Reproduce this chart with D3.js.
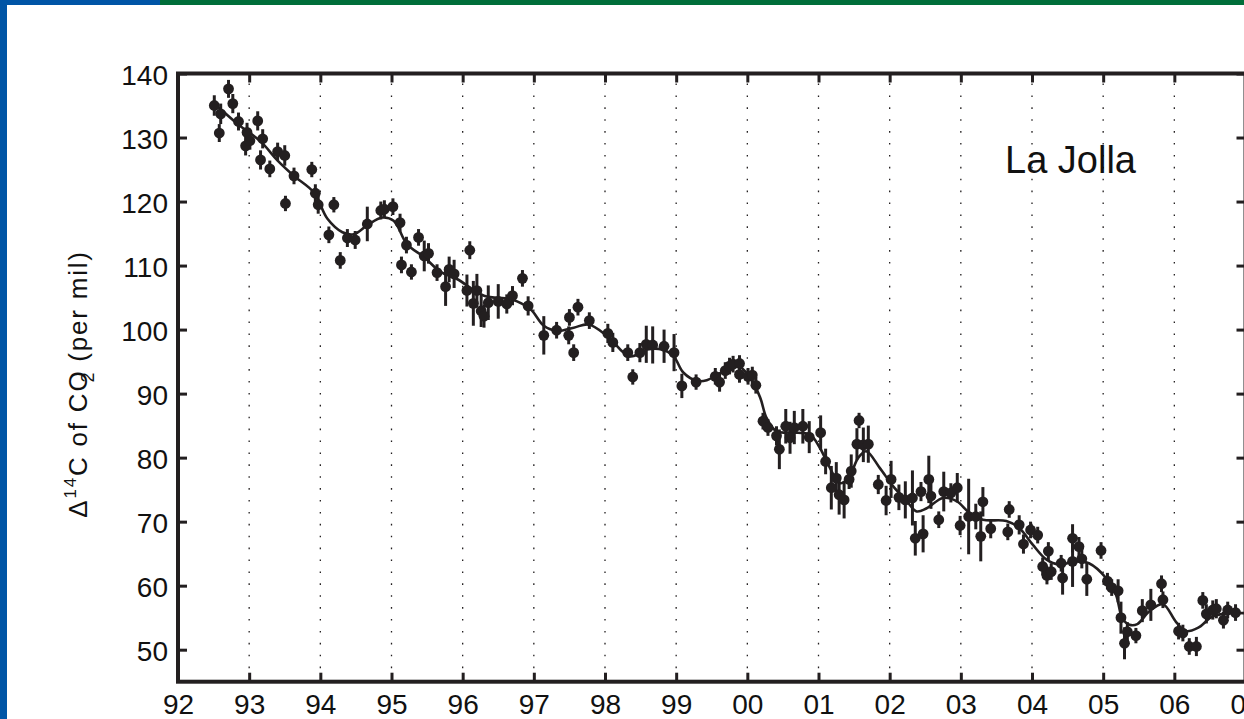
<!DOCTYPE html>
<html>
<head>
<meta charset="utf-8">
<script src="https://cdn.jsdelivr.net/npm/d3@7"></script>
<style>
    body { margin: 0px; overflow: hidden; background: #ffffff; }
    text { font-family: "Liberation Sans", Arial, Helvetica, sans-serif; fill: #111111; }
</style>
</head>
<body id="body">
<svg id="main-svg" width="1244" height="719"></svg>
<script>
'use strict';

// sample dates (decimal year), delta 14C (per mil) and 1-sigma error
const years = [
    1992.51, 1992.58, 1992.60, 1992.71, 1992.77, 1992.85, 1992.95, 1992.97, 1993.01, 1993.12,
    1993.16, 1993.19, 1993.29, 1993.40, 1993.50, 1993.51, 1993.63, 1993.88, 1993.93, 1993.97,
    1994.12, 1994.19, 1994.28, 1994.38, 1994.49, 1994.66, 1994.85, 1994.90, 1995.02, 1995.12,
    1995.14, 1995.21, 1995.28, 1995.38, 1995.46, 1995.52, 1995.64, 1995.76, 1995.81, 1995.88,
    1996.06, 1996.10, 1996.15, 1996.20, 1996.26, 1996.30, 1996.36, 1996.50, 1996.62, 1996.70,
    1996.84, 1996.92, 1997.14, 1997.32, 1997.49, 1997.50, 1997.56, 1997.62, 1997.78, 1998.04,
    1998.11, 1998.32, 1998.39, 1998.49, 1998.58, 1998.67, 1998.83, 1998.97, 1999.08, 1999.28,
    1999.55, 1999.61, 1999.69, 1999.75, 1999.80, 1999.89, 1999.89, 2000.01, 2000.07, 2000.12,
    2000.22, 2000.29, 2000.41, 2000.45, 2000.54, 2000.60, 2000.66, 2000.78, 2000.87, 2001.03,
    2001.10, 2001.18, 2001.25, 2001.29, 2001.36, 2001.43, 2001.46, 2001.54, 2001.57, 2001.63,
    2001.70, 2001.84, 2001.95, 2002.02, 2002.13, 2002.22, 2002.32, 2002.36, 2002.44, 2002.47,
    2002.55, 2002.58, 2002.69, 2002.76, 2002.86, 2002.95, 2002.99, 2003.11, 2003.21, 2003.28,
    2003.31, 2003.42, 2003.66, 2003.68, 2003.82, 2003.88, 2003.98, 2004.08, 2004.15, 2004.21,
    2004.23, 2004.27, 2004.41, 2004.43, 2004.57, 2004.57, 2004.66, 2004.70, 2004.77, 2004.97,
    2005.06, 2005.12, 2005.21, 2005.25, 2005.30, 2005.34, 2005.46, 2005.55, 2005.67, 2005.82,
    2005.84, 2006.06, 2006.12, 2006.21, 2006.31, 2006.40, 2006.45, 2006.54, 2006.59, 2006.69,
    2006.75, 2006.86,
];
const values = [
    135.0, 130.7, 133.7, 137.6, 135.3, 132.5, 128.7, 130.8, 129.5, 132.6,
    126.5, 129.8, 125.1, 127.8, 127.2, 119.7, 124.0, 125.0, 121.3, 119.5,
    114.8, 119.5, 110.8, 114.3, 114.0, 116.5, 118.6, 118.8, 119.2, 116.7,
    110.1, 113.2, 109.0, 114.4, 111.5, 111.9, 108.9, 106.7, 109.4, 108.7,
    106.1, 112.4, 104.1, 106.1, 102.9, 102.1, 104.2, 104.4, 104.0, 105.3,
    108.0, 103.7, 99.1, 99.9, 99.1, 101.9, 96.4, 103.5, 101.4, 99.4,
    98.0, 96.4, 92.6, 96.4, 97.7, 97.6, 97.4, 96.4, 91.2, 91.8,
    92.7, 91.8, 93.6, 94.3, 94.6, 94.7, 93.0, 92.7, 92.9, 91.3,
    85.7, 84.7, 83.4, 81.3, 84.9, 83.1, 84.7, 84.9, 83.2, 83.9,
    79.4, 75.3, 76.8, 74.2, 73.4, 76.6, 77.9, 82.1, 85.8, 82.0,
    82.1, 75.8, 73.3, 76.6, 73.8, 73.4, 73.7, 67.4, 74.7, 68.1,
    76.6, 74.0, 70.3, 74.7, 74.5, 75.3, 69.4, 70.8, 70.8, 67.7,
    73.1, 68.9, 68.4, 71.9, 69.5, 66.5, 68.7, 67.9, 63.0, 61.6,
    65.4, 62.2, 63.5, 61.2, 67.4, 63.8, 66.1, 64.2, 61.0, 65.5,
    60.7, 59.7, 59.2, 55.0, 51.0, 52.8, 52.2, 56.1, 57.0, 60.3,
    57.8, 52.9, 52.6, 50.5, 50.5, 57.7, 55.6, 56.2, 56.4, 54.6,
    56.2, 55.8,
];
const errors = [
    1.6, 1.4, 1.6, 1.4, 1.5, 1.4, 1.5, 1.5, 1.4, 1.5,
    1.5, 1.5, 1.3, 1.4, 1.6, 1.2, 1.3, 1.2, 1.4, 1.4,
    1.3, 1.2, 1.3, 1.4, 1.4, 2.7, 1.4, 1.4, 1.3, 1.4,
    1.3, 1.3, 1.2, 1.3, 2.4, 1.6, 1.3, 3.0, 2.0, 2.2,
    2.5, 1.4, 3.5, 2.6, 2.5, 1.8, 2.7, 2.7, 1.5, 1.5,
    1.3, 1.5, 3.0, 1.3, 1.4, 1.3, 1.3, 1.3, 1.3, 1.5,
    1.5, 1.3, 1.2, 1.5, 2.9, 2.9, 2.6, 2.9, 1.9, 1.2,
    1.3, 1.5, 1.3, 1.3, 1.3, 1.3, 1.3, 1.3, 1.3, 1.3,
    1.3, 1.3, 1.5, 3.1, 2.7, 2.5, 2.6, 2.7, 2.5, 2.7,
    2.0, 3.4, 2.5, 3.1, 2.9, 1.5, 2.6, 2.5, 1.2, 2.7,
    2.9, 1.5, 2.3, 2.9, 2.0, 2.9, 4.3, 2.7, 1.5, 2.9,
    3.7, 2.0, 1.3, 3.1, 1.5, 2.3, 1.5, 5.9, 2.0, 3.9,
    2.3, 1.5, 1.3, 1.3, 1.5, 1.5, 1.3, 1.3, 1.4, 1.4,
    1.4, 1.3, 1.3, 2.6, 2.2, 4.0, 1.5, 1.5, 2.6, 1.3,
    1.3, 1.3, 1.8, 2.5, 2.5, 1.5, 1.2, 1.8, 2.5, 1.3,
    1.3, 1.3, 1.3, 1.3, 1.5, 1.3, 1.5, 1.5, 1.5, 1.3,
    1.3, 1.3,
];

// smooth fit drawn through the samples
const fit_years = [
    1992.50, 1992.60, 1992.85, 1993.16, 1993.40, 1993.63, 1993.91, 1994.10, 1994.31, 1994.47,
    1994.66, 1994.87, 1995.03, 1995.22, 1995.46, 1995.69, 1995.92, 1996.30, 1996.69, 1996.95,
    1997.14, 1997.33, 1997.56, 1997.77, 1998.03, 1998.35, 1998.59, 1998.80, 1998.96, 1999.10,
    1999.29, 1999.43, 1999.71, 1999.85, 2000.04, 2000.18, 2000.27, 2000.41, 2000.60, 2000.88,
    2001.02, 2001.16, 2001.30, 2001.42, 2001.56, 2001.67, 2001.86, 2002.05, 2002.24, 2002.38,
    2002.52, 2002.75, 2002.94, 2003.12, 2003.31, 2003.64, 2003.82, 2004.01, 2004.20, 2004.38,
    2004.62, 2004.80, 2005.04, 2005.18, 2005.27, 2005.37, 2005.48, 2005.65, 2005.84, 2006.02,
    2006.16, 2006.33, 2006.54, 2006.77, 2007.00,
];
const fit_values = [
    135.3, 134.4, 132.0, 129.4, 126.4, 124.0, 121.4, 117.3, 115.2, 114.9,
    116.3, 117.5, 117.0, 113.3, 111.3, 109.0, 107.9, 105.3, 104.7, 103.2,
    100.6, 99.8, 100.3, 100.8, 99.0, 95.8, 96.9, 96.9, 95.9, 93.3,
    92.0, 92.1, 93.8, 94.5, 92.5, 89.4, 86.2, 84.1, 83.9, 83.6,
    81.5, 78.4, 76.0, 76.8, 80.0, 81.0, 78.4, 75.5, 73.2, 71.6,
    72.1, 73.7, 73.2, 71.4, 70.3, 70.1, 69.0, 66.4, 64.1, 63.3,
    63.8, 63.5, 61.2, 58.6, 54.9, 53.9, 54.0, 56.0, 57.1, 54.4,
    52.9, 53.4, 55.2, 55.7, 55.7,
];

const x_ticks = [1992, 1993, 1994, 1995, 1996, 1997, 1998, 1999, 2000, 2001, 2002, 2003, 2004, 2005, 2006, 2007];
const grid_years = x_ticks.slice(1, -1);
const y_ticks = [50, 60, 70, 80, 90, 100, 110, 120, 130, 140];


const Render = () => {
    const color_palette = {
        'blue': '#0055a6',
        'green': '#006e3a',
        'ink': '#231f20',
    };
    const frame = {left: 178, right: 1245.5, top: 73.5, bottom: 681.7};

    const svg = d3.select('#main-svg');

    const x = d3.scaleLinear().domain([1992, 2007]).range([frame.left, frame.right]);
    const y = d3.scaleLinear().domain([45, 140]).range([frame.bottom, frame.top]);

    return {
        draw: () => {
            svg.html(null);

            // page decoration: blue / green bars
            svg.append('rect').attr('x', 0).attr('y', 0).attr('width', 1244).attr('height', 5)
                .attr('fill', color_palette.green);
            svg.append('rect').attr('x', 0).attr('y', 0).attr('width', 160).attr('height', 5)
                .attr('fill', color_palette.blue);
            svg.append('rect').attr('x', 0).attr('y', 0).attr('width', 7).attr('height', 719)
                .attr('fill', color_palette.blue);

            // dotted year lines
            svg.append('g').selectAll('line')
                .data(grid_years)
                .enter().append('line')
                .attr('x1', (d) => x(d)).attr('x2', (d) => x(d))
                .attr('y1', frame.top + 10).attr('y2', frame.bottom - 4)
                .attr('stroke', color_palette.ink)
                .attr('stroke-width', 1.3)
                .attr('stroke-dasharray', '1.6,10.3');

            // axes with inward ticks
            const fmt_year = (d) => String(d % 100).padStart(2, '0');
            const style_axis = (g) => {
                g.select('.domain').remove();
                g.selectAll('.tick line').attr('stroke', color_palette.ink).attr('stroke-width', 3);
                g.selectAll('.tick text')
                    .style('font-family', '"Liberation Sans", Arial, sans-serif')
                    .style('font-size', '28px')
                    .attr('fill', '#111111');
            };

            svg.append('g')
                .attr('transform', `translate(0,${frame.bottom})`)
                .call(d3.axisBottom(x).tickValues(x_ticks).tickFormat(fmt_year)
                    .tickSizeInner(-9).tickSizeOuter(0).tickPadding(12))
                .call(style_axis);

            svg.append('g')
                .attr('transform', `translate(0,${frame.top})`)
                .call(d3.axisTop(x).tickValues(x_ticks).tickFormat('')
                    .tickSizeInner(-9).tickSizeOuter(0))
                .call(style_axis);

            const left = svg.append('g')
                .attr('transform', `translate(${frame.left},0)`)
                .call(d3.axisLeft(y).tickValues(y_ticks)
                    .tickSizeInner(-9).tickSizeOuter(0).tickPadding(10))
                .call(style_axis);
            left.selectAll('.tick text').attr('dy', '0.4em');

            svg.append('g')
                .attr('transform', `translate(${frame.right},0)`)
                .call(d3.axisRight(y).tickValues(y_ticks).tickFormat('')
                    .tickSizeInner(-9).tickSizeOuter(0))
                .call(style_axis);

            // frame
            svg.append('rect')
                .attr('x', frame.left).attr('y', frame.top)
                .attr('width', frame.right - frame.left)
                .attr('height', frame.bottom - frame.top)
                .attr('fill', 'none')
                .attr('stroke', color_palette.ink)
                .attr('stroke-width', 4);

            const samples = years.map((d, i) => ({year: d, value: values[i], err: errors[i]}));
            const fit = fit_years.map((d, i) => ({year: d, value: fit_values[i]}));

            const plot = svg.append('g');

            // error bars
            plot.append('g').selectAll('line')
                .data(samples)
                .enter().append('line')
                .attr('x1', (d) => x(d.year)).attr('x2', (d) => x(d.year))
                .attr('y1', (d) => y(d.value - d.err))
                .attr('y2', (d) => y(d.value + d.err))
                .attr('stroke', color_palette.ink)
                .attr('stroke-width', 3);

            // fitted curve
            plot.append('path')
                .datum(fit)
                .attr('fill', 'none')
                .attr('stroke', color_palette.ink)
                .attr('stroke-width', 2.6)
                .attr('d', d3.line()
                    .x((d) => x(d.year))
                    .y((d) => y(d.value))
                    .curve(d3.curveCatmullRom.alpha(0.5)));

            // samples
            plot.append('g').selectAll('circle')
                .data(samples)
                .enter().append('circle')
                .attr('cx', (d) => x(d.year))
                .attr('cy', (d) => y(d.value))
                .attr('r', 5.4)
                .attr('fill', color_palette.ink);

            // station label
            svg.append('text')
                .attr('x', 1005).attr('y', 173)
                .style('font-size', '38px')
                .text('La Jolla');

            // y axis title
            const title = svg.append('text')
                .attr('transform', 'translate(87,384) rotate(-90)')
                .attr('text-anchor', 'middle')
                .style('font-size', '26px')
                .style('letter-spacing', '1.8px');
            title.append('tspan').text('\u0394');
            title.append('tspan').attr('dy', -11).style('font-size', '17px').text('14');
            title.append('tspan').attr('dy', 11).text('C of CO');
            title.append('tspan').attr('dx', -13).attr('dy', 7).style('font-size', '18px').text('2');
            title.append('tspan').attr('dy', -7).text(' (per mil)');
        },
    };
};


const render = Render();
render.draw();
</script>
</body>
</html>
